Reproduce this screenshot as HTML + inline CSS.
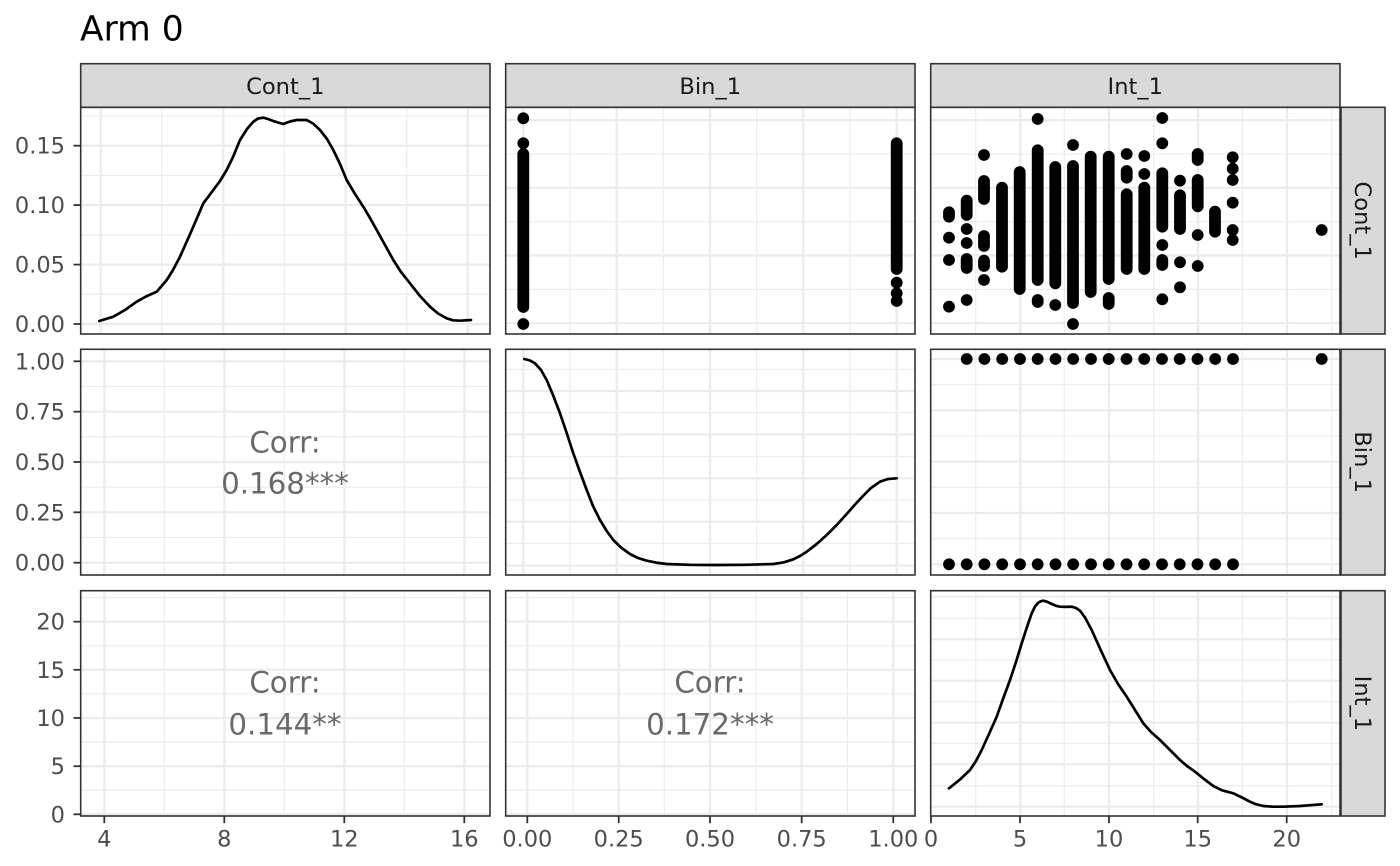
<!DOCTYPE html>
<html><head><meta charset="utf-8"><style>
html,body{margin:0;padding:0;background:#fff;}
svg{display:block;font-family:"DejaVu Sans","Liberation Sans",sans-serif;}
.mj{stroke:#EBEBEB;stroke-width:2.2;}
.mn{stroke:#EBEBEB;stroke-width:1.1;}
.pb{fill:none;stroke:#333;stroke-width:1.6;}
.st{fill:#D9D9D9;stroke:#333;stroke-width:1.6;}
.stt{font-size:22.6px;fill:#1A1A1A;}
.tl{font-size:22.5px;fill:#4D4D4D;}
.tk{stroke:#333;stroke-width:1.8;}
.cr{font-size:29.3px;fill:#696969;text-anchor:middle;}
.dn{fill:none;stroke:#000;stroke-width:2.7;stroke-linejoin:round;stroke-linecap:round;}
.sg{stroke:#000;stroke-width:11.8;stroke-linecap:round;}
</style></head><body>
<svg width="1400" height="866" viewBox="0 0 1400 866" xmlns="http://www.w3.org/2000/svg">
<rect width="1400" height="866" fill="#fff"/>
<text x="80" y="40.7" font-size="34.5" fill="#000">Arm 0</text>

<!-- ============ ROW 1 ============ -->
<g>
<line class="mn" x1="80.7" x2="490" y1="294.3" y2="294.3"/><line class="mn" x1="80.7" x2="490" y1="234.9" y2="234.9"/><line class="mn" x1="80.7" x2="490" y1="175.4" y2="175.4"/><line class="mn" x1="80.7" x2="490" y1="116" y2="116"/>
<line class="mn" y1="107.3" y2="334" x1="161.7" x2="161.7"/><line class="mn" y1="107.3" y2="334" x1="284.3" x2="284.3"/><line class="mn" y1="107.3" y2="334" x1="406.7" x2="406.7"/>
<line class="mj" x1="80.7" x2="490" y1="324" y2="324"/><line class="mj" x1="80.7" x2="490" y1="264.6" y2="264.6"/><line class="mj" x1="80.7" x2="490" y1="205.1" y2="205.1"/><line class="mj" x1="80.7" x2="490" y1="145.7" y2="145.7"/>
<line class="mj" y1="107.3" y2="334" x1="100.7" x2="100.7"/><line class="mj" y1="107.3" y2="334" x1="223.3" x2="223.3"/><line class="mj" y1="107.3" y2="334" x1="345.7" x2="345.7"/><line class="mj" y1="107.3" y2="334" x1="467.7" x2="467.7"/>
</g>
<polyline class="dn" points="99.3,321 113.3,316.7 125,310 136.7,301.7 146,296.5 156.7,291.7 166.7,280 173,270 180,256.7 187,241 193.3,226.7 203.3,203.3 213.3,190 220,181 226.7,170 233,157 240,140 247,129 253.3,121.7 258,118.5 263.3,117.7 268,119 273.3,121 278,122.5 283.3,124 290,121.5 296.7,120 306.7,120 313,123.5 320,130 327,139 333.3,150 340,164 346.7,180 355,194 363.3,206.7 370,218 376.7,230 385,245 393.3,260 401,272 410,283.3 420,296 430,306.7 438,313.5 446.7,318.3 453,320.3 460,320.7 471,320"/>
<rect class="pb" x="80.7" y="107.3" width="409.3" height="226.7"/>

<g>
<line class="mn" x1="505.7" x2="915" y1="289.4" y2="289.4"/><line class="mn" x1="505.7" x2="915" y1="221.7" y2="221.7"/><line class="mn" x1="505.7" x2="915" y1="154" y2="154"/>
<line class="mn" y1="107.3" y2="334" x1="570" x2="570"/><line class="mn" y1="107.3" y2="334" x1="663.3" x2="663.3"/><line class="mn" y1="107.3" y2="334" x1="756.7" x2="756.7"/><line class="mn" y1="107.3" y2="334" x1="850" x2="850"/>
<line class="mj" x1="505.7" x2="915" y1="323.2" y2="323.2"/><line class="mj" x1="505.7" x2="915" y1="255.5" y2="255.5"/><line class="mj" x1="505.7" x2="915" y1="187.8" y2="187.8"/><line class="mj" x1="505.7" x2="915" y1="120.1" y2="120.1"/>
<line class="mj" y1="107.3" y2="334" x1="523.3" x2="523.3"/><line class="mj" y1="107.3" y2="334" x1="616.7" x2="616.7"/><line class="mj" y1="107.3" y2="334" x1="710" x2="710"/><line class="mj" y1="107.3" y2="334" x1="803.3" x2="803.3"/><line class="mj" y1="107.3" y2="334" x1="896.7" x2="896.7"/>
</g>
<g fill="#000">
<circle cx="523.3" cy="118.3" r="5.9"/><circle cx="523.3" cy="143.3" r="5.9"/><line class="sg" x1="523.3" x2="523.3" y1="154" y2="307"/><circle cx="523.3" cy="324" r="5.9"/>
<line class="sg" x1="896.7" x2="896.7" y1="143.3" y2="269"/><circle cx="896.7" cy="282.7" r="5.9"/><circle cx="896.7" cy="293.3" r="5.9"/><circle cx="896.7" cy="301" r="5.9"/>
</g>
<rect class="pb" x="505.7" y="107.3" width="409.3" height="226.7"/>

<g>
<line class="mn" x1="930.7" x2="1340" y1="289.4" y2="289.4"/><line class="mn" x1="930.7" x2="1340" y1="221.7" y2="221.7"/><line class="mn" x1="930.7" x2="1340" y1="154" y2="154"/>
<line class="mn" y1="107.3" y2="334" x1="975.7" x2="975.7"/><line class="mn" y1="107.3" y2="334" x1="1064.3" x2="1064.3"/><line class="mn" y1="107.3" y2="334" x1="1153.7" x2="1153.7"/><line class="mn" y1="107.3" y2="334" x1="1242.3" x2="1242.3"/><line class="mn" y1="107.3" y2="334" x1="1331.7" x2="1331.7"/>
<line class="mj" x1="930.7" x2="1340" y1="323.2" y2="323.2"/><line class="mj" x1="930.7" x2="1340" y1="255.5" y2="255.5"/><line class="mj" x1="930.7" x2="1340" y1="187.8" y2="187.8"/><line class="mj" x1="930.7" x2="1340" y1="120.1" y2="120.1"/>
<line class="mj" y1="107.3" y2="334" x1="1020.3" x2="1020.3"/><line class="mj" y1="107.3" y2="334" x1="1109" x2="1109"/><line class="mj" y1="107.3" y2="334" x1="1198" x2="1198"/><line class="mj" y1="107.3" y2="334" x1="1287" x2="1287"/>
</g>
<g fill="#000">
<line class="sg" x1="949" x2="949" y1="212.3" y2="216.7"/><circle cx="949" cy="237.7" r="5.9"/><circle cx="949" cy="260" r="5.9"/><circle cx="949" cy="306.7" r="5.9"/>
<line class="sg" x1="966.7" x2="966.7" y1="200.7" y2="215"/><circle cx="966.7" cy="229" r="5.9"/><circle cx="966.7" cy="243" r="5.9"/><line class="sg" x1="966.7" x2="966.7" y1="259" y2="268"/><circle cx="966.7" cy="300" r="5.9"/>
<circle cx="984" cy="155" r="5.9"/><line class="sg" x1="984" x2="984" y1="181" y2="199"/><line class="sg" x1="984" x2="984" y1="236" y2="246"/><line class="sg" x1="984" x2="984" y1="260.7" y2="266"/><circle cx="984" cy="280" r="5.9"/>
<line class="sg" x1="1002" x2="1002" y1="187.7" y2="266.7"/>
<line class="sg" x1="1019.7" x2="1019.7" y1="172" y2="289"/>
<circle cx="1037.7" cy="119" r="5.9"/><line class="sg" x1="1037.7" x2="1037.7" y1="150.3" y2="280"/><line class="sg" x1="1037.7" x2="1037.7" y1="300" y2="302"/>
<line class="sg" x1="1055.3" x2="1055.3" y1="167" y2="283.3"/><circle cx="1055.3" cy="305" r="5.9"/>
<circle cx="1073" cy="145" r="5.9"/><line class="sg" x1="1073" x2="1073" y1="166" y2="303"/><circle cx="1073" cy="324" r="5.9"/>
<line class="sg" x1="1090.7" x2="1090.7" y1="156.7" y2="292"/>
<line class="sg" x1="1108.7" x2="1108.7" y1="156.7" y2="279"/><line class="sg" x1="1108.7" x2="1108.7" y1="298" y2="304"/>
<circle cx="1126.7" cy="154" r="5.9"/><line class="sg" x1="1126.7" x2="1126.7" y1="171" y2="177.7"/><line class="sg" x1="1126.7" x2="1126.7" y1="194.3" y2="269"/>
<circle cx="1144.3" cy="156" r="5.9"/><circle cx="1144.3" cy="174" r="5.9"/><line class="sg" x1="1144.3" x2="1144.3" y1="187.7" y2="269"/>
<circle cx="1162.3" cy="118" r="5.9"/><circle cx="1162.3" cy="143.3" r="5.9"/><line class="sg" x1="1162.3" x2="1162.3" y1="173.3" y2="226.7"/><circle cx="1162.3" cy="245" r="5.9"/><line class="sg" x1="1162.3" x2="1162.3" y1="260" y2="265"/><circle cx="1162.3" cy="299.3" r="5.9"/>
<circle cx="1180" cy="180.7" r="5.9"/><line class="sg" x1="1180" x2="1180" y1="195.3" y2="229"/><circle cx="1180" cy="262.3" r="5.9"/><circle cx="1180" cy="287.3" r="5.9"/>
<line class="sg" x1="1197.7" x2="1197.7" y1="154" y2="160"/><line class="sg" x1="1197.7" x2="1197.7" y1="180" y2="206.3"/><circle cx="1197.7" cy="235" r="5.9"/><circle cx="1197.7" cy="266" r="5.9"/>
<line class="sg" x1="1215" x2="1215" y1="211.7" y2="231.7"/>
<circle cx="1232.7" cy="157.3" r="5.9"/><circle cx="1232.7" cy="168.7" r="5.9"/><circle cx="1232.7" cy="180" r="5.9"/><circle cx="1232.7" cy="202.7" r="5.9"/><circle cx="1232.7" cy="230" r="5.9"/><circle cx="1232.7" cy="240" r="5.9"/>
<circle cx="1321.7" cy="230" r="5.9"/>
</g>
<rect class="pb" x="930.7" y="107.3" width="409.3" height="226.7"/>

<!-- ============ ROW 2 ============ -->
<g>
<line class="mn" x1="80.7" x2="490" y1="386.5" y2="386.5"/><line class="mn" x1="80.7" x2="490" y1="436.8" y2="436.8"/><line class="mn" x1="80.7" x2="490" y1="487.2" y2="487.2"/><line class="mn" x1="80.7" x2="490" y1="537.5" y2="537.5"/>
<line class="mn" y1="349.3" y2="575" x1="164.3" x2="164.3"/><line class="mn" y1="349.3" y2="575" x1="284.3" x2="284.3"/><line class="mn" y1="349.3" y2="575" x1="404.3" x2="404.3"/>
<line class="mj" x1="80.7" x2="490" y1="361.3" y2="361.3"/><line class="mj" x1="80.7" x2="490" y1="411.7" y2="411.7"/><line class="mj" x1="80.7" x2="490" y1="462" y2="462"/><line class="mj" x1="80.7" x2="490" y1="512.3" y2="512.3"/><line class="mj" x1="80.7" x2="490" y1="562.7" y2="562.7"/>
<line class="mj" y1="349.3" y2="575" x1="104.3" x2="104.3"/><line class="mj" y1="349.3" y2="575" x1="224.3" x2="224.3"/><line class="mj" y1="349.3" y2="575" x1="344.3" x2="344.3"/><line class="mj" y1="349.3" y2="575" x1="464.3" x2="464.3"/>
</g>
<text class="cr" x="285" y="452.7">Corr:</text>
<text class="cr" x="285" y="493.3">0.168***</text>
<rect class="pb" x="80.7" y="349.3" width="409.3" height="225.7"/>

<g>
<line class="mn" x1="505.7" x2="915" y1="369.3" y2="369.3"/><line class="mn" x1="505.7" x2="915" y1="412.7" y2="412.7"/><line class="mn" x1="505.7" x2="915" y1="456.7" y2="456.7"/><line class="mn" x1="505.7" x2="915" y1="500" y2="500"/><line class="mn" x1="505.7" x2="915" y1="543.3" y2="543.3"/>
<line class="mn" y1="349.3" y2="575" x1="570" x2="570"/><line class="mn" y1="349.3" y2="575" x1="663.3" x2="663.3"/><line class="mn" y1="349.3" y2="575" x1="756.7" x2="756.7"/><line class="mn" y1="349.3" y2="575" x1="850" x2="850"/>
<line class="mj" x1="505.7" x2="915" y1="391" y2="391"/><line class="mj" x1="505.7" x2="915" y1="434.3" y2="434.3"/><line class="mj" x1="505.7" x2="915" y1="478.3" y2="478.3"/><line class="mj" x1="505.7" x2="915" y1="521.7" y2="521.7"/><line class="mj" x1="505.7" x2="915" y1="565.7" y2="565.7"/>
<line class="mj" y1="349.3" y2="575" x1="523.3" x2="523.3"/><line class="mj" y1="349.3" y2="575" x1="616.7" x2="616.7"/><line class="mj" y1="349.3" y2="575" x1="710" x2="710"/><line class="mj" y1="349.3" y2="575" x1="803.3" x2="803.3"/><line class="mj" y1="349.3" y2="575" x1="896.7" x2="896.7"/>
</g>
<polyline class="dn" points="524.3,359 530,360.5 535,363.3 541,370 546.7,380 553,395 560,413.3 566.7,433 573.3,453.3 580,472 586.7,490 593,506 600,520 606.7,531 613.3,540 621,547.5 630,554 638,558 646.7,560.7 656,562.6 666.7,564 690,564.8 713.3,565 745,564.8 773.3,564 784,562.3 793.3,559.3 800,556 806.7,551.7 816.7,544 826.7,535 836.7,525 846.7,514 855,504.5 863.3,495.7 871,488 880,481.7 888,479 896.7,478.3"/>
<rect class="pb" x="505.7" y="349.3" width="409.3" height="225.7"/>

<g>
<line class="mn" x1="930.7" x2="1340" y1="384.7" y2="384.7"/><line class="mn" x1="930.7" x2="1340" y1="436" y2="436"/><line class="mn" x1="930.7" x2="1340" y1="487.3" y2="487.3"/><line class="mn" x1="930.7" x2="1340" y1="538.7" y2="538.7"/>
<line class="mn" y1="349.3" y2="575" x1="975.7" x2="975.7"/><line class="mn" y1="349.3" y2="575" x1="1064.3" x2="1064.3"/><line class="mn" y1="349.3" y2="575" x1="1153.7" x2="1153.7"/><line class="mn" y1="349.3" y2="575" x1="1242.3" x2="1242.3"/><line class="mn" y1="349.3" y2="575" x1="1331.7" x2="1331.7"/>
<line class="mj" x1="930.7" x2="1340" y1="359" y2="359"/><line class="mj" x1="930.7" x2="1340" y1="410.3" y2="410.3"/><line class="mj" x1="930.7" x2="1340" y1="461.7" y2="461.7"/><line class="mj" x1="930.7" x2="1340" y1="513" y2="513"/><line class="mj" x1="930.7" x2="1340" y1="564.3" y2="564.3"/>
<line class="mj" y1="349.3" y2="575" x1="1020.3" x2="1020.3"/><line class="mj" y1="349.3" y2="575" x1="1109" x2="1109"/><line class="mj" y1="349.3" y2="575" x1="1198" x2="1198"/><line class="mj" y1="349.3" y2="575" x1="1287" x2="1287"/>
</g>
<g fill="#000">
<circle cx="966.7" cy="359" r="5.9"/><circle cx="984.4" cy="359" r="5.9"/><circle cx="1002.2" cy="359" r="5.9"/><circle cx="1020" cy="359" r="5.9"/><circle cx="1037.7" cy="359" r="5.9"/><circle cx="1055.5" cy="359" r="5.9"/><circle cx="1073.2" cy="359" r="5.9"/><circle cx="1091" cy="359" r="5.9"/><circle cx="1108.7" cy="359" r="5.9"/><circle cx="1126.5" cy="359" r="5.9"/><circle cx="1144.2" cy="359" r="5.9"/><circle cx="1162" cy="359" r="5.9"/><circle cx="1179.7" cy="359" r="5.9"/><circle cx="1197.5" cy="359" r="5.9"/><circle cx="1215.2" cy="359" r="5.9"/><circle cx="1233" cy="359" r="5.9"/><circle cx="1321.7" cy="359" r="5.9"/>
<circle cx="949" cy="564.3" r="5.9"/><circle cx="966.7" cy="564.3" r="5.9"/><circle cx="984.4" cy="564.3" r="5.9"/><circle cx="1002.2" cy="564.3" r="5.9"/><circle cx="1020" cy="564.3" r="5.9"/><circle cx="1037.7" cy="564.3" r="5.9"/><circle cx="1055.5" cy="564.3" r="5.9"/><circle cx="1073.2" cy="564.3" r="5.9"/><circle cx="1091" cy="564.3" r="5.9"/><circle cx="1108.7" cy="564.3" r="5.9"/><circle cx="1126.5" cy="564.3" r="5.9"/><circle cx="1144.2" cy="564.3" r="5.9"/><circle cx="1162" cy="564.3" r="5.9"/><circle cx="1179.7" cy="564.3" r="5.9"/><circle cx="1197.5" cy="564.3" r="5.9"/><circle cx="1215.2" cy="564.3" r="5.9"/><circle cx="1233" cy="564.3" r="5.9"/>
</g>
<rect class="pb" x="930.7" y="349.3" width="409.3" height="225.7"/>

<!-- ============ ROW 3 ============ -->
<g>
<line class="mn" x1="80.7" x2="490" y1="790.2" y2="790.2"/><line class="mn" x1="80.7" x2="490" y1="742.1" y2="742.1"/><line class="mn" x1="80.7" x2="490" y1="693.9" y2="693.9"/><line class="mn" x1="80.7" x2="490" y1="645.8" y2="645.8"/><line class="mn" x1="80.7" x2="490" y1="597.6" y2="597.6"/>
<line class="mn" y1="590.7" y2="816" x1="164.3" x2="164.3"/><line class="mn" y1="590.7" y2="816" x1="284.3" x2="284.3"/><line class="mn" y1="590.7" y2="816" x1="404.3" x2="404.3"/>
<line class="mj" x1="80.7" x2="490" y1="814.3" y2="814.3"/><line class="mj" x1="80.7" x2="490" y1="766.2" y2="766.2"/><line class="mj" x1="80.7" x2="490" y1="718" y2="718"/><line class="mj" x1="80.7" x2="490" y1="669.8" y2="669.8"/><line class="mj" x1="80.7" x2="490" y1="621.7" y2="621.7"/>
<line class="mj" y1="590.7" y2="816" x1="104.3" x2="104.3"/><line class="mj" y1="590.7" y2="816" x1="224.3" x2="224.3"/><line class="mj" y1="590.7" y2="816" x1="344.3" x2="344.3"/><line class="mj" y1="590.7" y2="816" x1="464.3" x2="464.3"/>
</g>
<text class="cr" x="285" y="692.7">Corr:</text>
<text class="cr" x="285" y="734.3">0.144**</text>
<rect class="pb" x="80.7" y="590.7" width="409.3" height="225.3"/>

<g>
<line class="mn" x1="505.7" x2="915" y1="790.2" y2="790.2"/><line class="mn" x1="505.7" x2="915" y1="742.1" y2="742.1"/><line class="mn" x1="505.7" x2="915" y1="693.9" y2="693.9"/><line class="mn" x1="505.7" x2="915" y1="645.8" y2="645.8"/><line class="mn" x1="505.7" x2="915" y1="597.6" y2="597.6"/>
<line class="mn" y1="590.7" y2="816" x1="573" x2="573"/><line class="mn" y1="590.7" y2="816" x1="664.3" x2="664.3"/><line class="mn" y1="590.7" y2="816" x1="756" x2="756"/><line class="mn" y1="590.7" y2="816" x1="847.5" x2="847.5"/>
<line class="mj" x1="505.7" x2="915" y1="814.3" y2="814.3"/><line class="mj" x1="505.7" x2="915" y1="766.2" y2="766.2"/><line class="mj" x1="505.7" x2="915" y1="718" y2="718"/><line class="mj" x1="505.7" x2="915" y1="669.8" y2="669.8"/><line class="mj" x1="505.7" x2="915" y1="621.7" y2="621.7"/>
<line class="mj" y1="590.7" y2="816" x1="527.3" x2="527.3"/><line class="mj" y1="590.7" y2="816" x1="618.7" x2="618.7"/><line class="mj" y1="590.7" y2="816" x1="710" x2="710"/><line class="mj" y1="590.7" y2="816" x1="801.7" x2="801.7"/><line class="mj" y1="590.7" y2="816" x1="893.3" x2="893.3"/>
</g>
<text class="cr" x="710" y="692.7">Corr:</text>
<text class="cr" x="710" y="734.3">0.172***</text>
<rect class="pb" x="505.7" y="590.7" width="409.3" height="225.3"/>

<g>
<line class="mn" x1="930.7" x2="1340" y1="618.3" y2="618.3"/><line class="mn" x1="930.7" x2="1340" y1="660" y2="660"/><line class="mn" x1="930.7" x2="1340" y1="701.7" y2="701.7"/><line class="mn" x1="930.7" x2="1340" y1="743.3" y2="743.3"/><line class="mn" x1="930.7" x2="1340" y1="785.7" y2="785.7"/>
<line class="mn" y1="590.7" y2="816" x1="975.7" x2="975.7"/><line class="mn" y1="590.7" y2="816" x1="1064.3" x2="1064.3"/><line class="mn" y1="590.7" y2="816" x1="1153.7" x2="1153.7"/><line class="mn" y1="590.7" y2="816" x1="1242.3" x2="1242.3"/><line class="mn" y1="590.7" y2="816" x1="1331.7" x2="1331.7"/>
<line class="mj" x1="930.7" x2="1340" y1="596.7" y2="596.7"/><line class="mj" x1="930.7" x2="1340" y1="639.3" y2="639.3"/><line class="mj" x1="930.7" x2="1340" y1="680.7" y2="680.7"/><line class="mj" x1="930.7" x2="1340" y1="722.7" y2="722.7"/><line class="mj" x1="930.7" x2="1340" y1="764.3" y2="764.3"/><line class="mj" x1="930.7" x2="1340" y1="806.7" y2="806.7"/>
<line class="mj" y1="590.7" y2="816" x1="1020.3" x2="1020.3"/><line class="mj" y1="590.7" y2="816" x1="1109" x2="1109"/><line class="mj" y1="590.7" y2="816" x1="1198" x2="1198"/><line class="mj" y1="590.7" y2="816" x1="1287" x2="1287"/>
</g>
<polyline class="dn" points="949,788.3 960,779.5 970,770 976,761 981.7,750 989,734 996.7,716.7 1003,699 1010,680 1016,662 1021.7,643.3 1027,627 1031.7,613.3 1035,606.5 1038.3,602.7 1041,601.2 1043.3,600.7 1047,601.7 1051.7,604 1056,605.8 1060,606.7 1066,606.9 1071.7,606.7 1076,608 1080,610.7 1085,617.5 1091.7,630 1100,648.5 1110,670 1118,684 1126.7,696.7 1135,710 1143.3,723.3 1151,732 1160,740 1170,750 1180,760 1187,766 1195,771.7 1204,779 1213.3,786 1222,790.3 1233.3,793.3 1242,797.5 1250,801.7 1256,804.2 1263.3,806 1273,806.7 1283.3,806.7 1300,806 1321.7,804.3"/>
<rect class="pb" x="930.7" y="590.7" width="409.3" height="225.3"/>

<!-- ============ STRIPS ============ -->
<rect class="st" x="80.7" y="63.7" width="409.3" height="43.6"/>
<rect class="st" x="505.7" y="63.7" width="409.3" height="43.6"/>
<rect class="st" x="930.7" y="63.7" width="409.3" height="43.6"/>
<text class="stt" x="285.3" y="94" text-anchor="middle">Cont_1</text>
<text class="stt" x="710.3" y="94" text-anchor="middle">Bin_1</text>
<text class="stt" x="1135.3" y="94" text-anchor="middle">Int_1</text>

<rect class="st" x="1341" y="107.3" width="44" height="226.7"/>
<rect class="st" x="1341" y="349.3" width="44" height="225.7"/>
<rect class="st" x="1341" y="590.7" width="44" height="225.3"/>
<text class="stt" text-anchor="middle" transform="translate(1355,220.7) rotate(90)">Cont_1</text>
<text class="stt" text-anchor="middle" transform="translate(1355,462.2) rotate(90)">Bin_1</text>
<text class="stt" text-anchor="middle" transform="translate(1355,703.4) rotate(90)">Int_1</text>

<!-- ============ Y AXIS ============ -->
<g>
<line class="tk" x1="73.5" x2="80.7" y1="324" y2="324"/><line class="tk" x1="73.5" x2="80.7" y1="264.6" y2="264.6"/><line class="tk" x1="73.5" x2="80.7" y1="205.1" y2="205.1"/><line class="tk" x1="73.5" x2="80.7" y1="145.7" y2="145.7"/>
<line class="tk" x1="73.5" x2="80.7" y1="361.3" y2="361.3"/><line class="tk" x1="73.5" x2="80.7" y1="411.7" y2="411.7"/><line class="tk" x1="73.5" x2="80.7" y1="462" y2="462"/><line class="tk" x1="73.5" x2="80.7" y1="512.3" y2="512.3"/><line class="tk" x1="73.5" x2="80.7" y1="562.7" y2="562.7"/>
<line class="tk" x1="73.5" x2="80.7" y1="814.3" y2="814.3"/><line class="tk" x1="73.5" x2="80.7" y1="766.2" y2="766.2"/><line class="tk" x1="73.5" x2="80.7" y1="718" y2="718"/><line class="tk" x1="73.5" x2="80.7" y1="669.8" y2="669.8"/><line class="tk" x1="73.5" x2="80.7" y1="621.7" y2="621.7"/>
</g>
<g class="tl" text-anchor="end">
<text x="65" y="332">0.00</text><text x="65" y="272.6">0.05</text><text x="65" y="213.1">0.10</text><text x="65" y="153.7">0.15</text>
<text x="65" y="369.3">1.00</text><text x="65" y="419.7">0.75</text><text x="65" y="470">0.50</text><text x="65" y="520.3">0.25</text><text x="65" y="570.7">0.00</text>
<text x="65" y="822.3">0</text><text x="65" y="774.2">5</text><text x="65" y="726">10</text><text x="65" y="677.8">15</text><text x="65" y="629.7">20</text>
</g>

<!-- ============ X AXIS ============ -->
<g>
<line class="tk" y1="816" y2="823.2" x1="104.3" x2="104.3"/><line class="tk" y1="816" y2="823.2" x1="224.3" x2="224.3"/><line class="tk" y1="816" y2="823.2" x1="344.3" x2="344.3"/><line class="tk" y1="816" y2="823.2" x1="464.3" x2="464.3"/>
<line class="tk" y1="816" y2="823.2" x1="527.3" x2="527.3"/><line class="tk" y1="816" y2="823.2" x1="618.7" x2="618.7"/><line class="tk" y1="816" y2="823.2" x1="710" x2="710"/><line class="tk" y1="816" y2="823.2" x1="801.7" x2="801.7"/><line class="tk" y1="816" y2="823.2" x1="893.3" x2="893.3"/>
<line class="tk" y1="816" y2="823.2" x1="931" x2="931"/><line class="tk" y1="816" y2="823.2" x1="1020" x2="1020"/><line class="tk" y1="816" y2="823.2" x1="1109" x2="1109"/><line class="tk" y1="816" y2="823.2" x1="1197.7" x2="1197.7"/><line class="tk" y1="816" y2="823.2" x1="1286.7" x2="1286.7"/>
</g>
<g class="tl" text-anchor="middle">
<text x="104.3" y="846.5">4</text><text x="224.3" y="846.5">8</text><text x="344.3" y="846.5">12</text><text x="464.3" y="846.5">16</text>
<text x="527.3" y="846.5">0.00</text><text x="618.7" y="846.5">0.25</text><text x="710" y="846.5">0.50</text><text x="801.7" y="846.5">0.75</text><text x="893.3" y="846.5">1.00</text>
<text x="931" y="846.5">0</text><text x="1020" y="846.5">5</text><text x="1109" y="846.5">10</text><text x="1197.7" y="846.5">15</text><text x="1286.7" y="846.5">20</text>
</g>
</svg>
</body></html>
